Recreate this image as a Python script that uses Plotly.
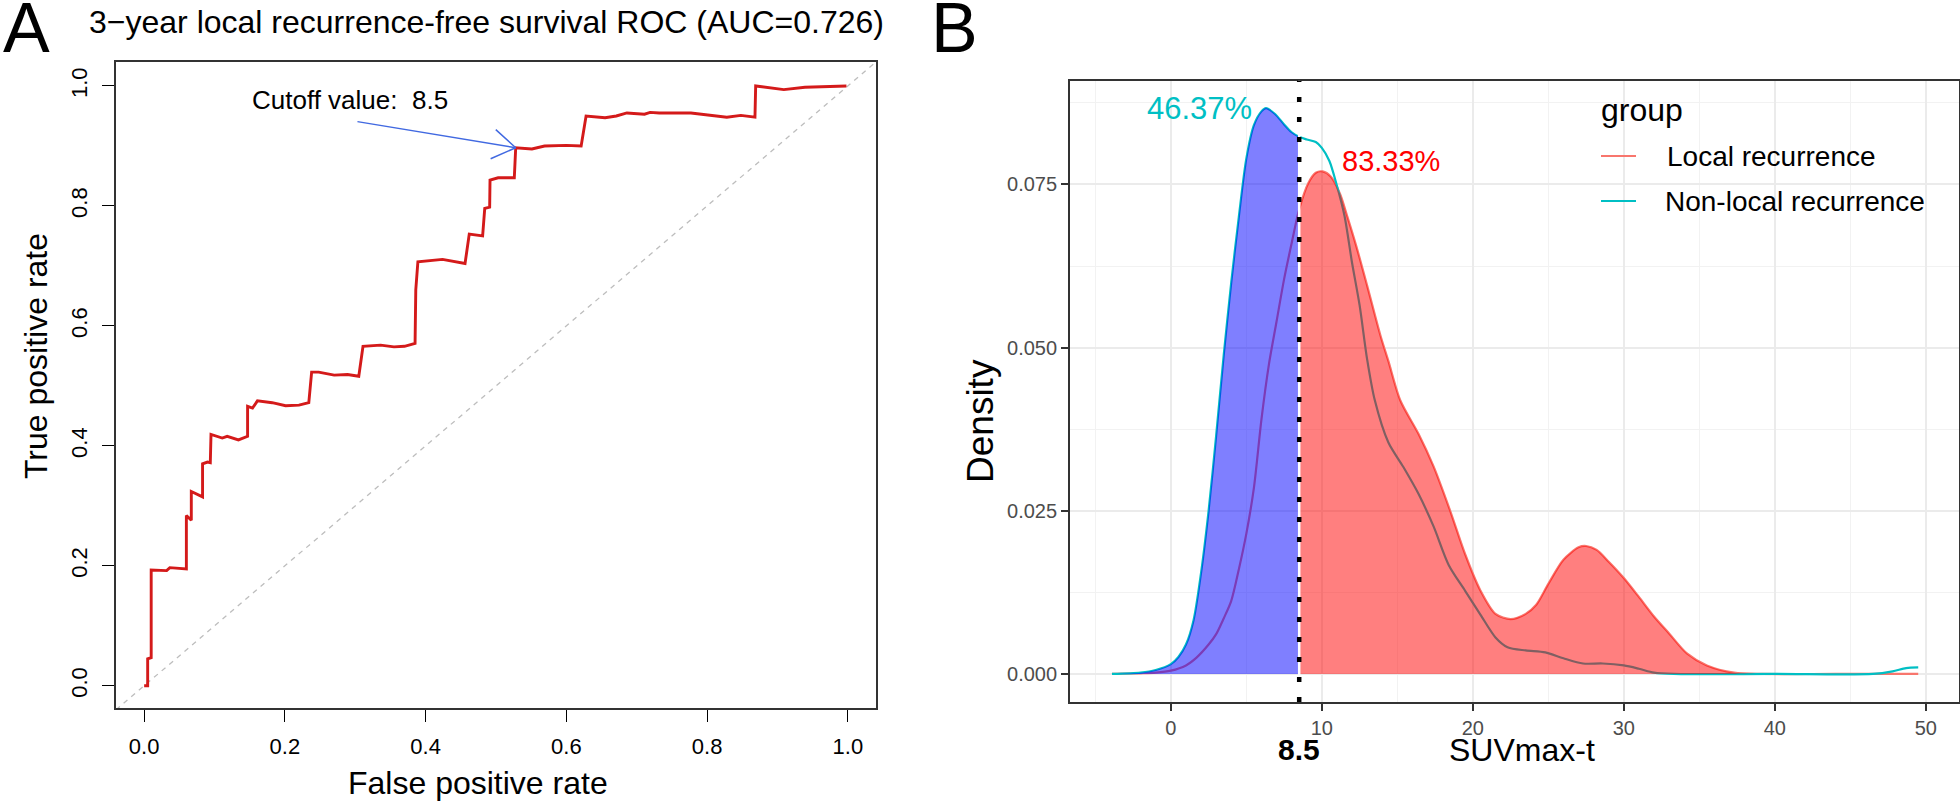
import math
import plotly.graph_objects as go

W, H = 1960, 802
FONT = "Liberation Sans, Arial, Helvetica, sans-serif"

# ---------------- Panel A : ROC curve ----------------
roc_fpr = [0.0, 0.005, 0.005, 0.010, 0.010, 0.032, 0.0365, 0.060, 0.060, 0.067, 0.067, 0.083,
           0.083, 0.090, 0.094, 0.095, 0.111, 0.118, 0.134, 0.147, 0.147, 0.154, 0.161, 0.182,
           0.201, 0.220, 0.234, 0.238, 0.248, 0.270, 0.289, 0.305, 0.311, 0.336, 0.355, 0.370,
           0.385, 0.386, 0.389, 0.424, 0.456, 0.462, 0.481, 0.484, 0.491, 0.4915, 0.503, 0.526,
           0.528, 0.551, 0.569, 0.600, 0.621, 0.628, 0.655, 0.671, 0.686, 0.711, 0.719, 0.732,
           0.777, 0.803, 0.828, 0.848, 0.868, 0.869, 0.884, 0.909, 0.939, 0.975, 0.998]
roc_tpr = [0.0, 0.0, 0.045, 0.047, 0.193, 0.192, 0.197, 0.195, 0.284, 0.276, 0.324, 0.315,
           0.370, 0.373, 0.372, 0.419, 0.413, 0.416, 0.410, 0.416, 0.466, 0.463, 0.475, 0.472,
           0.467, 0.468, 0.472, 0.523, 0.523, 0.518, 0.519, 0.516, 0.566, 0.568, 0.565, 0.566,
           0.571, 0.660, 0.707, 0.711, 0.704, 0.753, 0.750, 0.796, 0.798, 0.843, 0.847, 0.847,
           0.897, 0.895, 0.900, 0.901, 0.900, 0.950, 0.947, 0.950, 0.955, 0.953, 0.956, 0.955,
           0.955, 0.951, 0.948, 0.951, 0.948, 1.000, 0.998, 0.994, 0.998, 0.9995, 1.000]
roc_ticks = [0.0, 0.2, 0.4, 0.6, 0.8, 1.0]
roc_xrange = [-0.04, 1.04]
roc_yrange = [-0.037, 1.04]
auc = 0.726
cutoff = 8.5
cutoff_point = (0.528, 0.897)       # (fpr, tpr) at the cutoff
cutoff_label_pos = (0.292, 0.977)
arrow_tail = (0.301, 0.941)

# ---------------- Panel B : density curves ----------------
groups = ["Local recurrence", "Non-local recurrence"]
group_colors = ["#F8766D", "#00BFC4"]

suv_local = [-3.9, -2, -1, 0, 1, 1.7, 2.5, 3, 3.5, 4, 4.5, 5, 5.5, 6, 6.5, 7, 7.5, 8, 8.5,
             9.1, 9.6, 10.05, 10.6, 11.2, 11.7, 12.3, 13, 13.9, 14.4, 15.2, 16.4, 17.4, 18.5,
             19.5, 20.5, 21.5, 22.5, 23.5, 24.2, 25, 26, 27, 27.5, 28.2, 29, 30, 31, 32, 33,
             34.2, 35.5, 37.3, 39.2, 44, 49.5]
dens_local = [0.0, 0.0001, 0.0002, 0.0005, 0.0013, 0.0025, 0.0045, 0.0061, 0.0085, 0.0112,
              0.0160, 0.0215, 0.0285, 0.0390, 0.0475, 0.0540, 0.0605, 0.0660, 0.0712, 0.0752,
              0.0768, 0.0770, 0.0762, 0.0736, 0.0700, 0.0654, 0.0595, 0.0517, 0.0480, 0.0419,
              0.0368, 0.0318, 0.0250, 0.0183, 0.0128, 0.0092, 0.0084, 0.0092, 0.0106, 0.0138,
              0.0175, 0.0194, 0.0196, 0.0190, 0.0172, 0.0147, 0.0118, 0.0088, 0.0062, 0.0031,
              0.0013, 0.0002, 0.0, 0.0, 0.0]

suv_nonlocal = [-3.9, -2, -1, 0, 0.5, 1, 1.5, 2, 2.5, 3, 3.5, 4, 4.5, 5, 5.5, 6, 6.3, 6.9,
                7.5, 8, 8.5, 9, 9.6, 10, 10.5, 11, 11.5, 12, 12.5, 13, 13.5, 14.4, 15.4, 16.4,
                17.4, 18.4, 19.5, 20.5, 21.5, 22.3, 23.5, 24.8, 26, 27.3, 28.6, 30, 31, 32,
                33.3, 40, 46.5, 47.8, 48.7, 49.5]
dens_nonlocal = [0.0, 0.0002, 0.0006, 0.0015, 0.0026, 0.0045, 0.0082, 0.0155, 0.0250, 0.0365,
                 0.0488, 0.0600, 0.0700, 0.0790, 0.0841, 0.0862, 0.0867, 0.0858, 0.0842, 0.0830,
                 0.0823, 0.0819, 0.0815, 0.0806, 0.0786, 0.0748, 0.0702, 0.0630, 0.0565, 0.0482,
                 0.0420, 0.0355, 0.0317, 0.0276, 0.0226, 0.0167, 0.0127, 0.0091, 0.0056, 0.0041,
                 0.0036, 0.0033, 0.0024, 0.0016, 0.0016, 0.0013, 0.0008, 0.0002, 0.0, 0.0, 0.0,
                 0.0004, 0.0009, 0.0010]

pct_nonlocal = "46.37%"
pct_local = "83.33%"
pct_nonlocal_pos = (5.53, 0.0866)
pct_local_pos = (11.23, 0.0786)
dens_xticks = [0, 10, 20, 30, 40, 50]
dens_yticks = [0.0, 0.025, 0.050, 0.075]
dens_xrange = [-6.68, 52.2]
dens_yrange = [-0.0043, 0.0909]

# ---------------- layout geometry (pixels) ----------------
A_LEFT, A_RIGHT, A_TOP, A_BOTTOM = 116, 876, 62, 708
B_LEFT, B_RIGHT, B_TOP, B_BOTTOM = 1070, 1959, 80.7, 702


def px_x(p):
    return p / W


def px_y(p):
    return (H - p) / H


fig = go.Figure()

# ---- panel A traces
fig.add_trace(go.Scatter(x=roc_xrange, y=roc_xrange, mode="lines", xaxis="x", yaxis="y",
                         line=dict(color="#BDBDBD", width=1.3, dash="5px,5px"),
                         showlegend=False, hoverinfo="skip"))
fig.add_trace(go.Scatter(x=roc_fpr, y=roc_tpr, mode="lines", xaxis="x", yaxis="y",
                         line=dict(color="#D41A1A", width=2.9), showlegend=False,
                         name="ROC"))

# ---- panel B traces: density lines first, then translucent fills on top
for g, col, xs, ys in [(groups[0], group_colors[0], suv_local, dens_local),
                       (groups[1], group_colors[1], suv_nonlocal, dens_nonlocal)]:
    fig.add_trace(go.Scatter(x=xs, y=ys, mode="lines", xaxis="x2", yaxis="y2", name=g,
                             line=dict(color=col, width=2.2, shape="spline", smoothing=0.8),
                             showlegend=False))

blue_x = [x for x in suv_nonlocal if x <= cutoff]
blue_y = [y for x, y in zip(suv_nonlocal, dens_nonlocal) if x <= cutoff]
red_x = [x for x in suv_local if x >= cutoff]
red_y = [y for x, y in zip(suv_local, dens_local) if x >= cutoff]
fig.add_trace(go.Scatter(x=blue_x, y=blue_y, mode="lines", xaxis="x2", yaxis="y2",
                         fill="tozeroy", fillcolor="rgba(0,0,255,0.5)",
                         line=dict(width=0, shape="spline", smoothing=0.8),
                         showlegend=False, hoverinfo="skip"))
fig.add_trace(go.Scatter(x=red_x, y=red_y, mode="lines", xaxis="x2", yaxis="y2",
                         fill="tozeroy", fillcolor="rgba(255,0,0,0.5)",
                         line=dict(width=0, shape="spline", smoothing=0.8),
                         showlegend=False, hoverinfo="skip"))

# cutoff line (white under-stroke + black dotted)
shapes = [
    dict(type="line", xref="x2", yref="y2 domain", x0=cutoff, x1=cutoff, y0=0, y1=1,
         line=dict(color="white", width=2.5)),
    dict(type="line", xref="x2", yref="y2 domain", x0=cutoff, x1=cutoff, y0=0, y1=1,
         line=dict(color="black", width=4.5, dash="5px,15px")),
]

# manual legend keys
legend_left = 1601
legend_rows = [156, 201]
for col, yy in zip(group_colors, legend_rows):
    shapes.append(dict(type="line", xref="paper", yref="paper",
                       x0=px_x(legend_left), x1=px_x(legend_left + 35),
                       y0=px_y(yy), y1=px_y(yy), line=dict(color=col, width=2.2)))

annotations = [
    # panel letters
    dict(text="A", x=px_x(1), y=px_y(28), xref="paper", yref="paper", xanchor="left",
         yanchor="middle", showarrow=False, font=dict(size=70, color="black", family=FONT)),
    dict(text="B", x=px_x(929), y=px_y(28), xref="paper", yref="paper", xanchor="left",
         yanchor="middle", showarrow=False, font=dict(size=70, color="black", family=FONT)),
    # panel A title
    dict(text=f"3\u2212year local recurrence-free survival ROC (AUC={auc:.3f})",
         x=px_x(486), y=px_y(22), xref="paper", yref="paper", xanchor="center",
         yanchor="middle", showarrow=False, font=dict(size=32, color="black", family=FONT)),
    # panel A axis titles
    dict(text="False positive rate", x=px_x(478), y=px_y(783), xref="paper", yref="paper",
         xanchor="center", yanchor="middle", showarrow=False,
         font=dict(size=32, color="black", family=FONT)),
    dict(text="True positive rate", x=px_x(36), y=px_y(356), xref="paper", yref="paper",
         xanchor="center", yanchor="middle", textangle=-90, showarrow=False,
         font=dict(size=32, color="black", family=FONT)),
    # cutoff label
    dict(text=f"Cutoff value:  {cutoff}", x=cutoff_label_pos[0], y=cutoff_label_pos[1],
         xref="x", yref="y", xanchor="center", yanchor="middle", showarrow=False,
         font=dict(size=26, color="black", family=FONT)),
    # arrow shaft
    dict(text="", x=cutoff_point[0], y=cutoff_point[1], xref="x", yref="y",
         ax=arrow_tail[0], ay=arrow_tail[1], axref="x", ayref="y", showarrow=True,
         arrowhead=0, arrowwidth=1.5, arrowcolor="#4169E1", standoff=0),
    # panel B texts
    dict(text=pct_nonlocal, x=pct_nonlocal_pos[0], y=pct_nonlocal_pos[1], xref="x2",
         yref="y2", xanchor="right", yanchor="middle", showarrow=False,
         font=dict(size=31, color="#00BFC4", family=FONT)),
    dict(text=pct_local, x=pct_local_pos[0], y=pct_local_pos[1], xref="x2", yref="y2",
         xanchor="left", yanchor="middle", showarrow=False,
         font=dict(size=29, color="#FF0000", family=FONT)),
    dict(text="Density", x=px_x(980), y=px_y(421), xref="paper", yref="paper",
         xanchor="center", yanchor="middle", textangle=-90, showarrow=False,
         font=dict(size=37, color="black", family=FONT)),
    dict(text="SUVmax-t", x=px_x(1522), y=px_y(750), xref="paper", yref="paper",
         xanchor="center", yanchor="middle", showarrow=False,
         font=dict(size=32, color="black", family=FONT)),
    dict(text=f"<b>{cutoff}</b>", x=cutoff, y=px_y(749), xref="x2", yref="paper",
         xanchor="center", yanchor="middle", showarrow=False,
         font=dict(size=30, color="black", family=FONT)),
    # legend title
    dict(text="group", x=px_x(1599), y=px_y(110), xref="paper", yref="paper",
         xanchor="left", yanchor="middle", showarrow=False,
         font=dict(size=32, color="black", family=FONT)),
]

# open arrowhead: two short strokes leaving the tip, angled off the shaft (screen px)
sx = (A_RIGHT - A_LEFT) / (roc_xrange[1] - roc_xrange[0])
sy = (A_BOTTOM - A_TOP) / (roc_yrange[1] - roc_yrange[0])
back_dx = (arrow_tail[0] - cutoff_point[0]) * sx
back_dy = -(arrow_tail[1] - cutoff_point[1]) * sy
back_ang = math.atan2(back_dy, back_dx)
head_len, head_ang = 29, math.radians(33)
for s in (-1, 1):
    a = back_ang + s * head_ang
    annotations.append(dict(text="", x=cutoff_point[0], y=cutoff_point[1], xref="x",
                            yref="y", ax=head_len * math.cos(a), ay=head_len * math.sin(a),
                            showarrow=True, arrowhead=0, arrowwidth=1.5,
                            arrowcolor="#4169E1", standoff=0))

for name, yy, lx in zip(groups, legend_rows, [1665, 1663]):
    annotations.append(dict(text=name, x=px_x(lx), y=px_y(yy + 1), xref="paper",
                            yref="paper", xanchor="left", yanchor="middle", showarrow=False,
                            font=dict(size=28, color="black", family=FONT)))

fig.update_layout(
    width=W, height=H, margin=dict(l=0, r=0, t=0, b=0),
    paper_bgcolor="white", plot_bgcolor="white",
    font=dict(family=FONT, color="black"),
    showlegend=False,
    shapes=shapes, annotations=annotations,
    xaxis=dict(domain=[px_x(A_LEFT), px_x(A_RIGHT)], range=roc_xrange, anchor="y",
               tickvals=roc_ticks, ticktext=[f"{v:.1f}" for v in roc_ticks],
               ticks="outside", ticklen=12, tickwidth=1.3, tickcolor="black",
               showline=True, mirror=True, linecolor="#333333", linewidth=1.6,
               showgrid=False, zeroline=False, tickfont=dict(size=22, color="black"),
               ticklabelstandoff=6),
    yaxis=dict(domain=[px_y(A_BOTTOM), px_y(A_TOP)], range=roc_yrange, anchor="x",
               tickvals=roc_ticks, ticktext=[f"{v:.1f}" for v in roc_ticks],
               ticks="outside", ticklen=12, tickwidth=1.3, tickcolor="black",
               tickangle=-90, showline=True, mirror=True, linecolor="#333333",
               linewidth=1.6, showgrid=False, zeroline=False,
               tickfont=dict(size=22, color="black"), ticklabelstandoff=6),
    xaxis2=dict(domain=[px_x(B_LEFT), px_x(B_RIGHT)], range=dens_xrange, anchor="y2",
                tickvals=dens_xticks, ticks="outside", ticklen=7, tickwidth=1.5,
                tickcolor="#333333", showline=True, mirror=True, linecolor="#333333",
                linewidth=1.8, showgrid=True, gridcolor="#EBEBEB", gridwidth=2,
                zeroline=False, tickfont=dict(size=20, color="#4D4D4D"),
                minor=dict(showgrid=True, gridcolor="#F2F2F2", gridwidth=1.2,
                           tick0=-5, dtick=5, ticks="")),
    yaxis2=dict(domain=[px_y(B_BOTTOM), px_y(B_TOP)], range=dens_yrange, anchor="x2",
                tickvals=dens_yticks, ticktext=[f"{v:.3f}" for v in dens_yticks],
                ticks="outside", ticklen=7, tickwidth=1.5, tickcolor="#333333",
                showline=True, mirror=True, linecolor="#333333", linewidth=1.8,
                showgrid=True, gridcolor="#EBEBEB", gridwidth=2, zeroline=False,
                tickfont=dict(size=20, color="#4D4D4D"),
                minor=dict(showgrid=True, gridcolor="#F2F2F2", gridwidth=1.2,
                           tick0=0.0125, dtick=0.025, ticks="")),
)

fig.write_html("out.html", config={"displayModeBar": False},
               post_script="document.body.style.margin='0';")
